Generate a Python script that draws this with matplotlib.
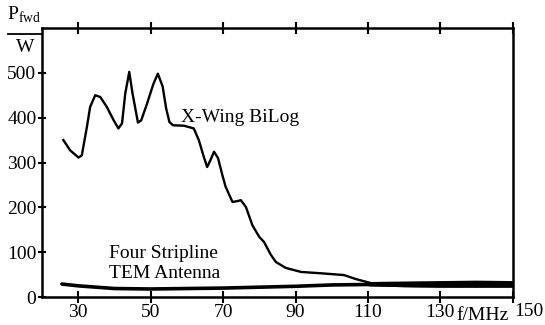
import matplotlib
matplotlib.use("Agg")
from matplotlib import pyplot as plt
import numpy as np

# X-Wing BiLog forward power
xwing_f = [25.9, 27.8, 30.1, 31.0, 32.4, 33.3, 34.7, 36.1, 37.9, 39.8, 41.1, 42.1,
           43.0, 44.1, 45.0, 46.5, 47.4, 49.0, 50.8, 52.0, 53.3, 54.3, 55.2, 56.2,
           59.2, 61.9, 63.3, 64.7, 65.6, 66.5, 67.5, 68.6, 69.8, 70.7, 72.6, 74.0,
           74.9, 76.3, 78.1, 80.0, 81.3, 83.2, 84.6, 87.3, 91.5, 97.0, 103.4,
           106.7, 110.9, 120.0, 130.0, 140.0, 150.0]
xwing_p = [350, 327, 311, 316, 379, 424, 450, 446, 424, 394, 376, 387,
           454, 502, 454, 389, 394, 431, 476, 498, 470, 420, 390, 383,
           382, 376, 350, 312, 290, 305, 324, 310, 272, 246, 212, 214,
           216, 201, 160, 134, 123, 94, 78, 65, 56, 53, 49,
           40, 31, 32, 33, 34, 33]

# Four Stripline TEM antenna
tem_f = [25.5, 30, 40, 50, 60, 70, 80, 90, 100, 110, 120, 130, 140, 150]
tem_p = [29, 25, 19, 18, 19, 20, 22, 24, 27, 28, 26, 25, 25, 25]

xticks = [30, 50, 70, 90, 110, 130, 150]
yticks = [0, 100, 200, 300, 400, 500]

plt.rcParams['font.family'] = ['Liberation Serif', 'DejaVu Serif']
plt.rcParams['mathtext.fontset'] = 'custom'
plt.rcParams['mathtext.rm'] = 'Liberation Serif'

fig = plt.figure(figsize=(5.45, 3.25), dpi=100)
ax = fig.add_axes([0.077, 0.086, 0.864, 0.828])

ax.plot(xwing_f, xwing_p, color='black', lw=1.7, solid_joinstyle='round')
ax.plot(tem_f, tem_p, color='black', lw=2.6, solid_capstyle='round')
# the two traces overlap into a thick band at the high end
ax.fill_between(tem_f[9:], np.array(tem_p[9:]) - 3, np.array(xwing_p[-5:]) + 2,
                color='black', lw=0)

ax.set_xlim(20, 150)
ax.set_ylim(0, 600)
ax.set_xticks(xticks)
ax.set_yticks(yticks)
ax.set_xticklabels([str(t) for t in xticks[:-1]] + [''], fontsize=14)
ax.set_yticklabels([str(t) for t in yticks], fontsize=14)
ax.tick_params(axis='x', direction='inout', length=8, width=1.5, pad=1, top=True)
ax.tick_params(axis='y', direction='inout', length=6, width=1.5, pad=1)
for s in ax.spines.values():
    s.set_linewidth(1.8)

ax.text(58.5, 401, 'X-Wing BiLog', fontsize=14, va='center', ha='left')
ax.text(38.5, 98, 'Four Stripline', fontsize=14, va='center', ha='left')
ax.text(38.5, 52, 'TEM Antenna', fontsize=14, va='center', ha='left')

fig.text(0.045, 0.955, r'P$_{\mathrm{fwd}}$', fontsize=14, ha='center', va='center')
fig.add_artist(plt.Line2D([0.015, 0.077], [0.895, 0.895], color='black', lw=1.3))
fig.text(0.046, 0.855, 'W', fontsize=14, ha='center', va='center')
fig.text(0.885, 0.003, 'f/MHz', fontsize=14, ha='center', va='bottom')
fig.text(0.998, 0.015, '150', fontsize=14, ha='right', va='bottom')

fig.savefig('out.png', dpi=100)
